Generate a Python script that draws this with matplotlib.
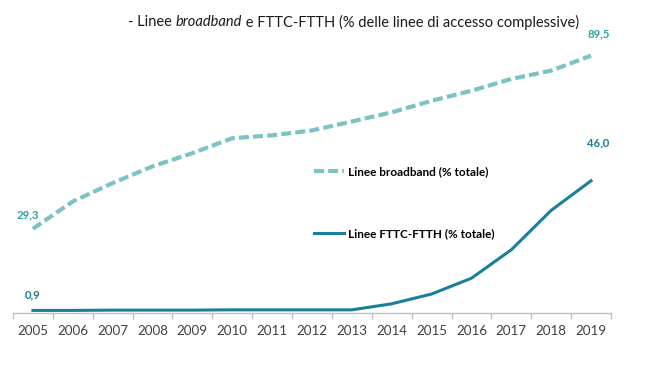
import matplotlib
matplotlib.use("Agg")
import matplotlib.pyplot as plt
import numpy as np

plt.rcParams['font.family'] = ['Lato', 'DejaVu Sans']

# dati
anni = [str(a) for a in range(2005, 2020)]
broadband = [29.3, 38.8, 45.2, 51.0, 55.6, 60.8, 61.8, 63.5, 66.6, 69.8,
             73.8, 77.3, 81.4, 84.3, 89.5]
ftth = [0.9, 0.9, 1.0, 1.0, 1.0, 1.1, 1.1, 1.1, 1.1, 3.2,
        6.6, 12.1, 22.0, 35.7, 46.0]
titolo_parti = [("- Linee ", "normal"), ("broadband", "italic"),
                (" e FTTC-FTTH (% delle linee di accesso complessive)", "normal")]

c_bb = '#7DC2C6'
c_ft = '#1B7F9C'
c_lab_bb = '#2AA0A8'
c_lab_ft = '#1F7A96'

W, H = 647, 367
fig = plt.figure(figsize=(W / 100, H / 100), dpi=100)
ax = fig.add_axes([13 / W, 54 / H, 598 / W, 283.2 / H])

x = np.arange(len(anni))
ax.plot(x, broadband, color=c_bb, lw=3, linestyle=(0, (2.4, 1.0)),
        label='Linee broadband (% totale)')
ax.plot(x, ftth, color=c_ft, lw=2.2, label='Linee FTTC-FTTH (% totale)')

ax.set_xlim(-0.5, len(anni) - 0.5)
ax.set_ylim(0, 98.5)

for s in ['top', 'right', 'left']:
    ax.spines[s].set_visible(False)
ax.spines['bottom'].set_color('#BFBFBF')
ax.spines['bottom'].set_linewidth(1)
ax.set_yticks([])
ax.set_xticks(x)
ax.set_xticklabels(anni)
ax.set_xticks(np.arange(-0.5, len(anni), 1.0), minor=True)
ax.tick_params(axis='x', which='major', length=0, pad=8.5, labelsize=9.6,
               labelcolor='#404040')
ax.tick_params(axis='x', which='minor', length=4, color='#BFBFBF', width=1)

# etichette dati
kw = dict(textcoords='offset points', ha='center', va='center',
          fontsize=8.2, fontweight='bold')
ax.annotate('29,3', (0, broadband[0]), xytext=(-3.6, 10), color=c_lab_bb, **kw)
ax.annotate('89,5', (14, broadband[-1]), xytext=(5.4, 15.8), color=c_lab_bb, **kw)
ax.annotate('46,0', (14, ftth[-1]), xytext=(5.4, 27.6), color=c_lab_ft, **kw)
ax.annotate('0,9', (0, ftth[0]), xytext=(0, 11), color=c_lab_ft, **kw)

leg = ax.legend(loc='upper left', bbox_to_anchor=(290 / 598, (313.2 - 156) / 283.2),
                frameon=False, handlelength=2.6, handletextpad=0.3,
                labelspacing=4.3, prop={'weight': 'bold', 'size': 8.5})

# titolo con parte in corsivo
fig.canvas.draw()
r = fig.canvas.get_renderer()
xpos = 128 / W
for testo, stile in titolo_parti:
    t = fig.text(xpos, 1 - 22 / H, testo, fontsize=10.5, style=stile,
                 ha='left', va='center', color='#1a1a1a')
    bb = t.get_window_extent(renderer=r)
    xpos += bb.width / W

fig.savefig('out.png', dpi=100)
